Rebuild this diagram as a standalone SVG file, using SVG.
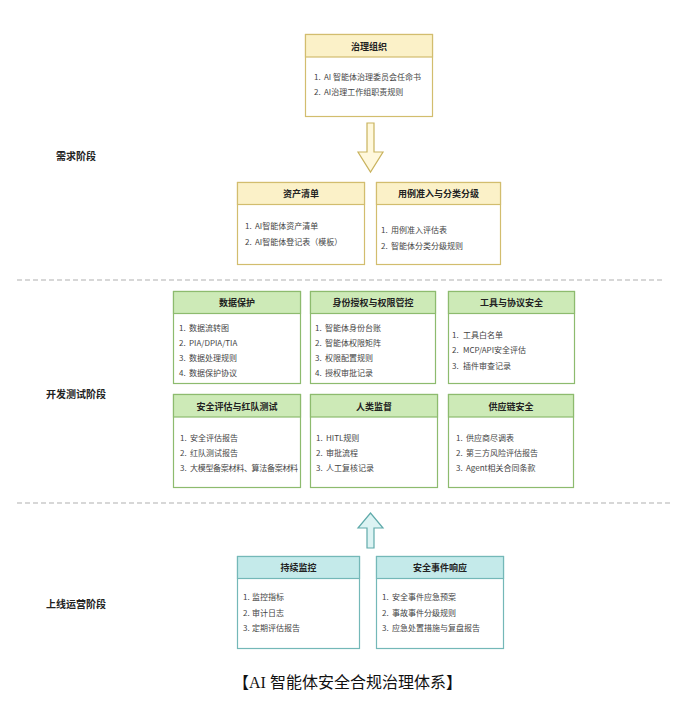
<svg xmlns="http://www.w3.org/2000/svg" width="688" height="713" viewBox="0 0 688 713">
<style>
text{font-family:"Noto Sans CJK SC","Noto Sans",sans-serif;}
.box{fill:#ffffff;stroke-width:1.2;}
.y .box,.y .hd{stroke:#d2bd6e;}
.y .hd{fill:#fbf1c8;stroke-width:1.2;}
.g .box,.g .hd{stroke:#8dbb6e;}
.g .hd{fill:#cdeab7;stroke-width:1.2;}
.t .box,.t .hd{stroke:#74b8b8;}
.t .hd{fill:#c4eaea;stroke-width:1.2;}
.h{font-size:9px;font-weight:bold;fill:#222;text-anchor:middle;dominant-baseline:central;}
.i{font-size:8px;fill:#444;dominant-baseline:central;}
.stage{font-size:10px;font-weight:bold;fill:#222;text-anchor:middle;dominant-baseline:central;}
.dash{stroke:#b0b0b0;stroke-width:1.1;stroke-dasharray:5,3;fill:none;}
</style>

<g id="stage-labels">
<text class="stage" x="76" y="155">需求阶段</text>
<text class="stage" x="76" y="393">开发测试阶段</text>
<text class="stage" x="76" y="603">上线运营阶段</text>
</g>

<g id="separators">
<line class="dash" x1="17" y1="280" x2="662" y2="280"/>
<line class="dash" x1="17" y1="503" x2="670" y2="503"/>
</g>

<g id="connectors">
<polygon points="367,123 374,123 374,152 383,152 370.5,172 358,152 367,152" fill="#fff8dc" stroke="#c9b35e" stroke-width="1.2"/>
<polygon points="367,548 374,548 374,528 383,528 370.5,513 358,528 367,528" fill="#dcf3f3" stroke="#5faaaa" stroke-width="1.2"/>
</g>

<g id="node-governance" class="y">
<rect class="box" x="305.5" y="34.5" width="127" height="82"/>
<rect class="hd" x="305.5" y="34.5" width="127" height="22.5"/>
<text class="h" x="369" y="46">治理组织</text>
<text class="i" x="314" y="76">1.<tspan x="324">AI 智能体治理委员会任命书</tspan></text>
<text class="i" x="314" y="91">2.<tspan x="324">AI治理工作组职责规则</tspan></text>
</g>

<g id="node-assets" class="y">
<rect class="box" x="237.5" y="182.5" width="127" height="82"/>
<rect class="hd" x="237.5" y="182.5" width="127" height="22"/>
<text class="h" x="301" y="193.5">资产清单</text>
<text class="i" x="245" y="225">1.<tspan x="255">AI智能体资产清单</tspan></text>
<text class="i" x="245" y="241">2.<tspan x="255">AI智能体登记表（模板）</tspan></text>
</g>

<g id="node-usecase" class="y">
<rect class="box" x="376.5" y="182.5" width="124" height="82"/>
<rect class="hd" x="376.5" y="182.5" width="124" height="22"/>
<text class="h" x="438.5" y="193.5">用例准入与分类分级</text>
<text class="i" x="381" y="229">1.<tspan x="391">用例准入评估表</tspan></text>
<text class="i" x="381" y="245">2.<tspan x="391">智能体分类分级规则</tspan></text>
</g>

<g id="node-data" class="g">
<rect class="box" x="173.5" y="291.5" width="127" height="92"/>
<rect class="hd" x="173.5" y="291.5" width="127" height="22"/>
<text class="h" x="237" y="302.5">数据保护</text>
<text class="i" x="179" y="327">1.<tspan x="189">数据流转图</tspan></text>
<text class="i" x="179" y="342">2.<tspan x="189">PIA/DPIA/TIA</tspan></text>
<text class="i" x="179" y="357">3.<tspan x="189">数据处理规则</tspan></text>
<text class="i" x="179" y="372">4.<tspan x="189">数据保护协议</tspan></text>
</g>

<g id="node-identity" class="g">
<rect class="box" x="310.5" y="291.5" width="125" height="92"/>
<rect class="hd" x="310.5" y="291.5" width="125" height="22"/>
<text class="h" x="373" y="302.5">身份授权与权限管控</text>
<text class="i" x="315" y="327">1.<tspan x="325">智能体身份台账</tspan></text>
<text class="i" x="315" y="342">2.<tspan x="325">智能体权限矩阵</tspan></text>
<text class="i" x="315" y="357">3.<tspan x="325">权限配置规则</tspan></text>
<text class="i" x="315" y="372">4.<tspan x="325">授权审批记录</tspan></text>
</g>

<g id="node-tools" class="g">
<rect class="box" x="448.5" y="291.5" width="126" height="92"/>
<rect class="hd" x="448.5" y="291.5" width="126" height="22"/>
<text class="h" x="511.5" y="302.5">工具与协议安全</text>
<text class="i" x="452" y="334">1.<tspan x="463">工具白名单</tspan></text>
<text class="i" x="452" y="349">2.<tspan x="463">MCP/API安全评估</tspan></text>
<text class="i" x="452" y="365">3.<tspan x="463">插件审查记录</tspan></text>
</g>

<g id="node-redteam" class="g">
<rect class="box" x="173.5" y="394.5" width="127" height="93"/>
<rect class="hd" x="173.5" y="394.5" width="127" height="22.5"/>
<text class="h" x="237" y="406">安全评估与红队测试</text>
<text class="i" x="180" y="437">1.<tspan x="190">安全评估报告</tspan></text>
<text class="i" x="180" y="452">2.<tspan x="190">红队测试报告</tspan></text>
<text class="i" x="180" y="467">3.<tspan x="190" style="letter-spacing:-0.3px">大模型备案材料、算法备案材料</tspan></text>
</g>

<g id="node-oversight" class="g">
<rect class="box" x="310.5" y="394.5" width="127" height="93"/>
<rect class="hd" x="310.5" y="394.5" width="127" height="22.5"/>
<text class="h" x="374" y="406">人类监督</text>
<text class="i" x="316" y="437">1.<tspan x="326">HITL规则</tspan></text>
<text class="i" x="316" y="452">2.<tspan x="326">审批流程</tspan></text>
<text class="i" x="316" y="467">3.<tspan x="326">人工复核记录</tspan></text>
</g>

<g id="node-supply" class="g">
<rect class="box" x="448.5" y="394.5" width="125" height="93"/>
<rect class="hd" x="448.5" y="394.5" width="125" height="22.5"/>
<text class="h" x="511" y="406">供应链安全</text>
<text class="i" x="456" y="437">1.<tspan x="466">供应商尽调表</tspan></text>
<text class="i" x="456" y="452">2.<tspan x="466">第三方风险评估报告</tspan></text>
<text class="i" x="456" y="467">3.<tspan x="466">Agent相关合同条款</tspan></text>
</g>

<g id="node-monitor" class="t">
<rect class="box" x="237.5" y="556.5" width="122" height="92"/>
<rect class="hd" x="237.5" y="556.5" width="122" height="22"/>
<text class="h" x="298.5" y="567.5">持续监控</text>
<text class="i" x="243" y="596">1.<tspan x="252">监控指标</tspan></text>
<text class="i" x="243" y="612">2.<tspan x="252">审计日志</tspan></text>
<text class="i" x="243" y="627">3.<tspan x="252">定期评估报告</tspan></text>
</g>

<g id="node-incident" class="t">
<rect class="box" x="376.5" y="556.5" width="127" height="92"/>
<rect class="hd" x="376.5" y="556.5" width="127" height="22"/>
<text class="h" x="440" y="567.5">安全事件响应</text>
<text class="i" x="382" y="596">1.<tspan x="392">安全事件应急预案</tspan></text>
<text class="i" x="382" y="612">2.<tspan x="392">事故事件分级规则</tspan></text>
<text class="i" x="382" y="627">3.<tspan x="392">应急处置措施与复盘报告</tspan></text>
</g>

<g id="caption">
<text x="347.5" y="682" style="font-family:'Liberation Serif','Noto Sans CJK SC',serif;font-size:16px;fill:#111;text-anchor:middle;dominant-baseline:central;">【AI 智能体安全合规治理体系】</text>
</g>
</svg>
